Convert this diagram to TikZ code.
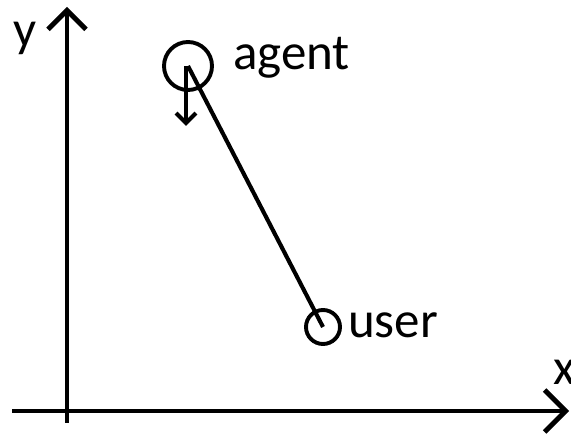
\documentclass[tikz,border=0pt]{standalone}
\usepackage{fontspec}
\setmainfont{Carlito}
\usetikzlibrary{arrows.meta}
\begin{document}
\begin{tikzpicture}[x=1pt,y=-1pt,
  axis/.style={line width=4.8pt},
  ring/.style={circle,draw,line width=3.9pt,inner sep=0pt},
  lbl/.style={inner sep=0pt,anchor=base west,font=\fontsize{51}{60}\selectfont},
  link/.style={line width=4.1pt}]
\useasboundingbox (0,0) rectangle (571,435);
\coordinate (ybot) at (67,423);
\coordinate (ytop) at (67,7);
\coordinate (xleft) at (12,411);
\coordinate (xright) at (569,411);
\draw[axis,-{Straight Barb[length=19pt,width=38pt]}] (ybot) -- (ytop);
\draw[axis,-{Straight Barb[length=21pt,width=42pt]}] (xleft) -- (xright);
\node[lbl] (ylab) at (13,47) {y};
\node[lbl] (xlab) at (553,385) {x};
\node[ring,minimum size=48pt] (agent) at (188,66) {};
\node[ring,minimum size=34pt] (user) at (323,327) {};
\node[lbl] (agentlab) at (233,70) {agent};
\node[lbl] (userlab) at (348,338) {user};
\coordinate (dirend) at (186,126);
\draw[link] (agent.center) -- (user.center);
\draw[link,-{Straight Barb[length=10pt,width=20pt]}] ([xshift=-2pt]agent.center) -- (dirend);
\end{tikzpicture}
\end{document}
